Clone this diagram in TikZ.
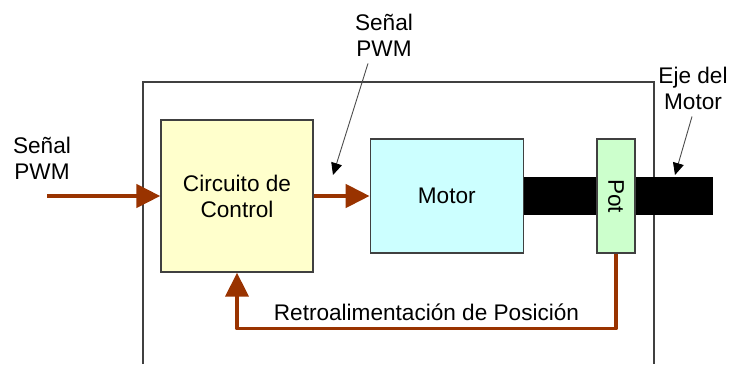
\documentclass[tikz,border=0pt]{standalone}
\usepackage{fontspec}
\setmainfont{Liberation Sans}
\usetikzlibrary{arrows.meta, positioning}
\definecolor{brownarr}{HTML}{993300}
\definecolor{ctrlfill}{HTML}{FFFFCC}
\definecolor{motorfill}{HTML}{CCFFFF}
\definecolor{potfill}{HTML}{CCFFCC}
\definecolor{edge}{HTML}{404040}

\begin{document}
\begin{tikzpicture}[
    x=1pt, y=-1pt,
    block/.style={draw=edge, line width=1.3pt, font=\fontsize{22.6}{26}\selectfont,
        align=center, inner sep=0pt},
    lbl/.style={font=\fontsize{22.6}{26}\selectfont, align=center, inner sep=0pt, text=black},
    sig/.style={-{Triangle[length=24pt, width=23pt]}, line width=4.5pt, color=brownarr},
    fb/.style={-{Triangle[length=24pt, width=23pt]}, line width=3.5pt, color=brownarr,
        line join=round},
    note/.style={-{Triangle[length=12pt, width=11pt, black]}, line width=0.9pt,
        draw=black!70},
    node distance=56pt
]
    \useasboundingbox (0,0) rectangle (735,364);
    % housing, open at the bottom
    \draw[edge, line width=1.3pt] (143,364) |- (654,82) -- (654,364);

    \node[block, fill=ctrlfill, minimum width=152pt, minimum height=152pt] (ctrl) at (237,196) {Circuito de\\Control};
    \node[block, fill=motorfill, minimum width=153pt, minimum height=114pt, right=of ctrl] (motor) {Motor};
    \node[fill=black, minimum width=189pt, minimum height=38pt, inner sep=0pt, anchor=west] (eje) at (motor.east) {};
    \node[block, fill=potfill, minimum width=38pt, minimum height=114pt] (pot) at (616,196) {\rotatebox{-90}{Pot}};

    \node[lbl] (pwmIn) at (42,158) {Señal\\PWM};
    \coordinate (inL) at (47,196);
    \draw[sig] (inL) -- (ctrl.west);
    \draw[sig] (ctrl.east) -- (motor.west);

    \draw[fb] (pot.south) -- ++(0,75) coordinate (fbR)
        -- node[lbl, above=6pt] {Retroalimentación de Posición} (fbR -| ctrl.south)
        -- (ctrl.south);

    \node[lbl] (pwmTop) at (384,35) {Señal\\PWM};
    \coordinate (pwmTip) at (333,175);
    \draw[note] ([xshift=-16pt, yshift=-7pt]pwmTop.south) -- (pwmTip);

    \node[lbl] (ejeLbl) at (693,88) {Eje del\\Motor};
    \coordinate (ejeTip) at (675,175);
    \draw[note] ([xshift=-1pt, yshift=-7pt]ejeLbl.south) -- (ejeTip);
\end{tikzpicture}
\end{document}
